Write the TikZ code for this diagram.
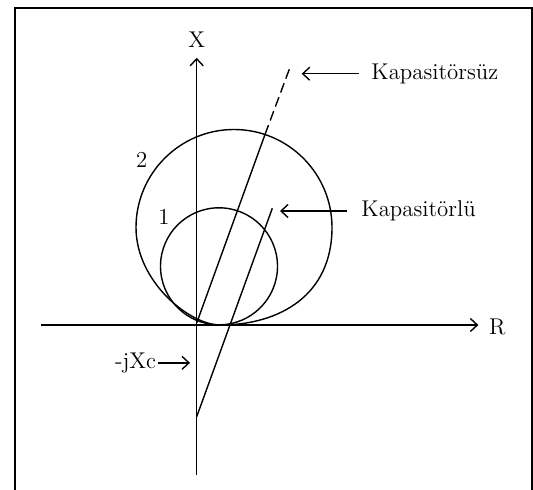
\documentclass[tikz,border=0pt]{standalone}
\usepackage{tikz}
\usetikzlibrary{arrows.meta,positioning,calc}

\begin{document}
\begin{tikzpicture}[
  x=0.5pt, y=-0.5pt,
  >={Straight Barb[length=3.5pt,width=6.5pt]},
  line width=0.7pt,
  every node/.style={font=\fontsize{11.4}{13.7}\selectfont, inner sep=0pt},
  axislabel/.style={inner sep=5pt},
  callout/.style={anchor=base west},
  future/.style={dash pattern=on 5pt off 2.45pt},
]
\useasboundingbox (0,0) rectangle (533,490);

% Frame
\draw[line width=1.2pt] (15,495) -- (15,8) -- (532,8) -- (532,495);

% Axes
\coordinate (O)     at (196.7,323);
\coordinate (Xbot)  at (196.7,475);
\coordinate (Rleft) at (41,325);
\node[axislabel] (X) at (196.7,39.3)  {X};
\node[axislabel] (R) at (497.3,326.7) {R};
\draw[->] (Xbot) -- (X);
\draw[->] (Rleft) -- (Rleft -| R.west);

% Circle 1 (small) and circle 2 (large)
\coordinate (C1) at (219,266.3);
\draw (C1) circle[radius=58.5];
\draw (136,227.5) .. controls (136,173.4) and (179.9,129.5) .. (234,129.5)
                  .. controls (288.1,129.5) and (332,173.4) .. (332,227.5)
                  .. controls (332,295) and (280,325) .. (220,325)
                  .. controls (190,325) and (136,282) .. cycle;
\node (n2) at (141.7,160)   {2};
\node (n1) at (164,216.7)   {1};

% Without capacitor
\coordinate (Sbrk) at (265,134.5);
\coordinate (Stop) at (289.3,69.3);
\draw (O) -- (Sbrk);
\draw[future] (Sbrk) -- (Stop);

% With capacitor
\coordinate (Lbot) at (196.7,416.7);
\coordinate (Ltop) at (272.3,208.3);
\draw (Lbot) -- (Ltop);

% Callouts
\node[callout, inner xsep=6pt] (ksuz) at (358.7,79.3)  {Kapasitörsüz};
\node[callout, inner xsep=7pt] (klu)  at (346.7,216.7) {Kapasitörlü};
\node[anchor=base east, inner xsep=0.5pt] (jxc) at (157.7,368.3) {-jXc};
\coordinate (ksuzTip) at (301.7,73);
\coordinate (kluTip)  at (280,210);
\coordinate (jxcTip)  at (190,362);
\draw[->] (ksuz.west) -- (ksuz.west -| ksuzTip);
\draw[->] (klu.west)  -- (klu.west -| kluTip);
\draw[->] (jxc.east)  -- (jxc.east -| jxcTip);

\end{tikzpicture}
\end{document}
